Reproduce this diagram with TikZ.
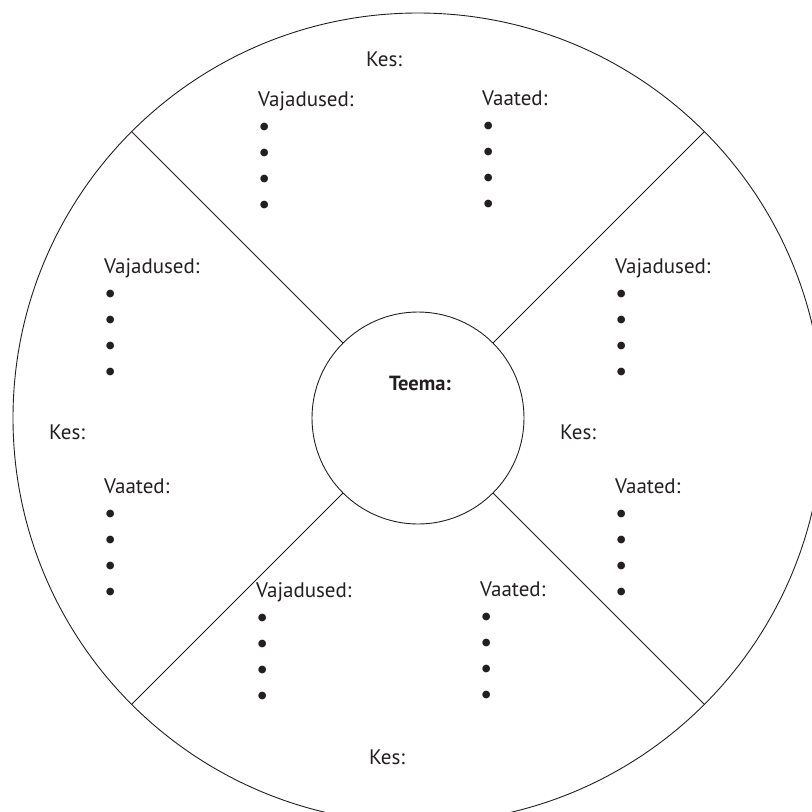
\documentclass[tikz,border=0pt]{standalone}
\usepackage{fontspec}
\usepackage{graphicx}
\setmainfont{PT Sans}
\definecolor{inkblack}{RGB}{35,31,32}
\tikzstyle{ring} = [draw=inkblack, circle, inner sep=0pt, outer sep=0pt, line width=0.9pt]
\tikzstyle{block} = [align=left, inner sep=0pt, anchor=north west, text=inkblack, font=\fontsize{21}{26}\selectfont]
\newcommand{\bul}{\raisebox{-3pt}{\scalebox{1.3}{\textbullet}}}
\newcommand{\blist}{\bul\\ \bul\\ \bul\\ \bul}

\begin{document}
\begin{tikzpicture}[x=1pt, y=-1pt,
			spoke/.style = {draw=inkblack, line width=0.9pt},
			who/.style = {inner sep=0pt, text=inkblack, font=\fontsize{21}{24}\selectfont}]
			\useasboundingbox (0,0) rectangle (812,812);
			\node (rim)[ring, minimum size=810pt] at (418,418) {};
			\node (hub)[ring, minimum size=212pt] at (418,418) {};
			\node (theme)[who, font=\fontsize{20.5}{24}\selectfont\bfseries] at (420,383) {Teema:};
			
			\draw[spoke] (hub.45) -- (rim.45);
			\draw[spoke] (hub.135) -- (rim.135);
			\draw[spoke] (hub.225) -- (rim.225);
			\draw[spoke] (hub.315) -- (rim.315);
			
			% top
			\node (kes1)[who] at (384,59) {Kes:};
			\node (needs1)[block] at (258,91) {Vajadused:\\\blist};
			\node (views1)[block] at (482,91) {Vaated:\\\blist};
			% left
			\node (kes2)[who] at (67,432) {Kes:};
			\node (needs2)[block] at (104,258) {Vajadused:\\\blist};
			\node (views2)[block] at (104,479) {Vaated:\\\blist};
			% right
			\node (kes3)[who] at (578,432) {Kes:};
			\node (needs3)[block] at (615,258) {Vajadused:\\\blist};
			\node (views3)[block] at (615,479) {Vaated:\\\blist};
			% bottom
			\node (kes4)[who] at (387,757) {Kes:};
			\node (needs4)[block] at (256,582) {Vajadused:\\\blist};
			\node (views4)[block] at (480,582) {Vaated:\\\blist};
		\end{tikzpicture}
\end{document}
